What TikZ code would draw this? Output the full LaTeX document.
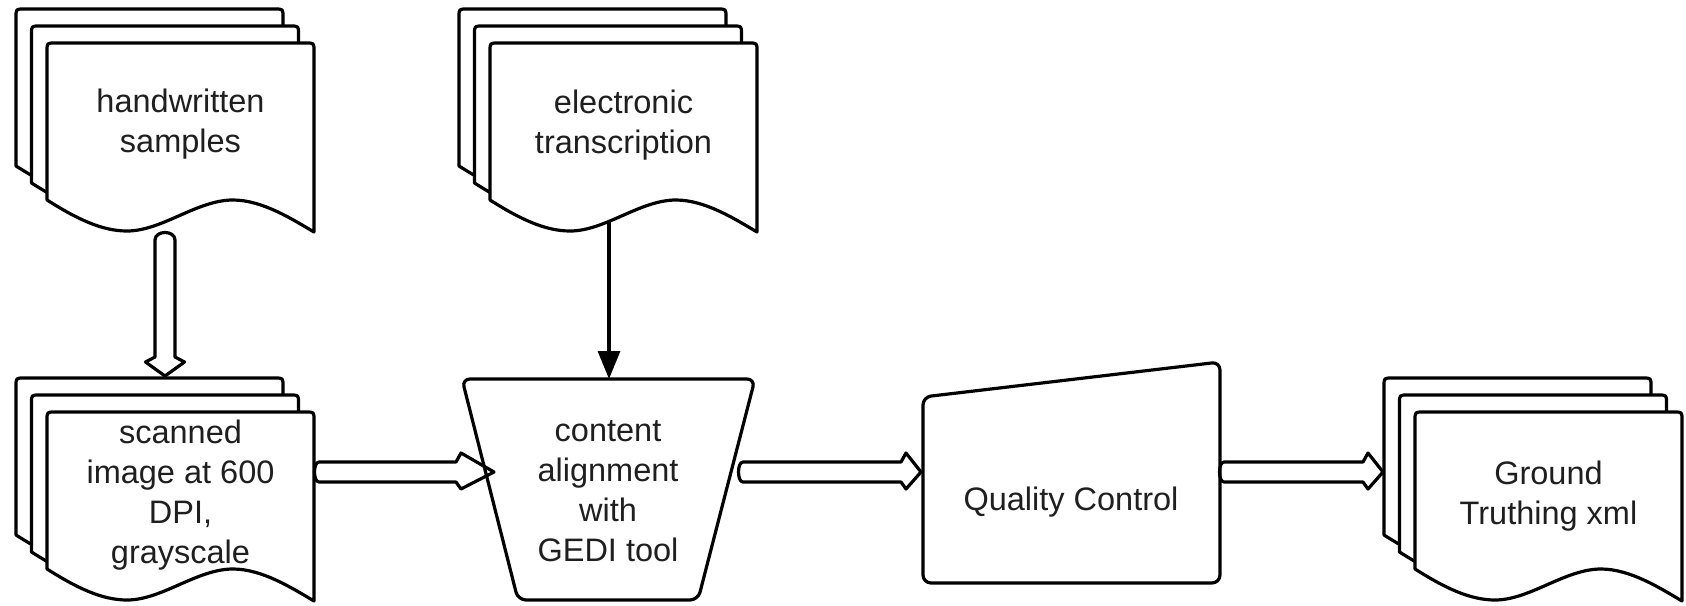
\documentclass[tikz,border=0pt]{standalone}
\usepackage{fontspec}
\setmainfont{Liberation Sans}
\usetikzlibrary{arrows.meta,calc}

% one sheet of a stacked document: rounded top, wavy bottom
\newcommand\docsheet{(0,157) -- (0,8) .. controls (0,0) .. (8,0) -- (259,0)
  .. controls (267,0) .. (267,8) -- (267,189)
  .. controls (245,176) and (215,157) .. (186,157)
  .. controls (150,157) and (115,188) .. (80,188)
  .. controls (55,188) and (30,176) .. (0,157) -- cycle}

% stacked documents: #1 name, #2 left, #3 top of front sheet, #4 label, #5 label drop
\newcommand\multidoc[5]{%
  \foreach \k in {2,1,0}{
    \draw[sheet, shift={({#2-15.5*\k},{#3-17*\k})}] \docsheet;
  }
  \node[label] (#1) at ({#2+133.5},{#3+#5}) {#4};
}

% hollow horizontal arrow with a rounded tail: #1 tail, #2 tip, #3 head length
\newcommand\hollowarrow[3]{%
  \draw[outline] let \p1=#1, \p2=#2 in
    (\x1+3pt,\y1+5pt) -- (\x2-#3,\y1+5pt) -- (\x2-#3+2.5pt,\y1+9.5pt)
    -- (\x2,\y1) -- (\x2-#3+2.5pt,\y1-8.5pt) -- (\x2-#3,\y1-5pt)
    -- (\x1+3pt,\y1-5pt) .. controls (\x1,\y1-5pt) and (\x1,\y1+5pt) .. cycle;
}

% hollow downward arrow with a rounded tail: #1 tail, #2 tip, #3 head length
\newcommand\hollowdown[3]{%
  \draw[outline] let \p1=#1, \p2=#2 in
    (\x1-5pt,\y1-4pt) -- (\x1-5pt,\y2+#3) -- (\x1-9.75pt,\y2+#3-2.5pt)
    -- (\x1,\y2) -- (\x1+9.75pt,\y2+#3-2.5pt) -- (\x1+5pt,\y2+#3)
    -- (\x1+5pt,\y1-4pt) .. controls (\x1+5pt,\y1+1pt) and (\x1-5pt,\y1+1pt) .. cycle;
}

\tikzset{
  outline/.style={draw=black, line width=1.6pt, line join=round},
  sheet/.style={outline, fill=white},
  label/.style={font=\fontsize{16.25pt}{20pt}\selectfont, align=center,
    text=black!88, inner sep=0pt},
  thinarrow/.style={draw=black, line width=1.6pt,
    -{Triangle[length=14pt,width=11pt]}},
}

\begin{document}
\begin{tikzpicture}[x=0.5pt,y=-0.5pt]
\useasboundingbox (0,0) rectangle (1686,605);

% connection points
\coordinate (hand-s)   at (165,232);
\coordinate (scan-n)   at (165,376);
\coordinate (scan-e)   at (313,472);
\coordinate (etrans-s) at (609,200);
\coordinate (align-n)  at (609,379);
\coordinate (align-w)  at (494,472);
\coordinate (align-e)  at (737,472);
\coordinate (qc-w)     at (921,472);
\coordinate (qc-e)     at (1218,472);
\coordinate (gt-w)     at (1383,472);

% transcription feeds the alignment step (tail hidden under the sheets)
\draw[thinarrow] (etrans-s) -- (align-n);

% document stacks
\multidoc{hand}{47}{43}{handwritten\\samples}{81}
\multidoc{etrans}{490}{43}{electronic\\transcription}{82}
\multidoc{scan}{47}{412}{scanned\\image at 600\\DPI,\\grayscale}{83}
\multidoc{gt}{1415}{412}{Ground\\Truthing xml}{84}

% manual operation: content alignment
\draw[outline, rounded corners=4pt] (462,379) -- (755,379) -- (698,600) -- (518,600) -- cycle;
\node[label] (align) at (608,491) {content\\alignment\\with\\GEDI tool};

% manual input: quality control
\draw[outline, rounded corners=4pt] (923,397) -- (1220,362) -- (1220,583) -- (923,583) -- cycle;
\node[label] (qc) at (1071,502) {Quality Control};

% hollow flow arrows
\hollowdown{(hand-s)}{(scan-n)}{9.5pt}
\hollowarrow{(scan-e)}{(align-w)}{19pt}
\hollowarrow{(align-e)}{(qc-w)}{10pt}
\hollowarrow{(qc-e)}{(gt-w)}{10pt}
\end{tikzpicture}
\end{document}
